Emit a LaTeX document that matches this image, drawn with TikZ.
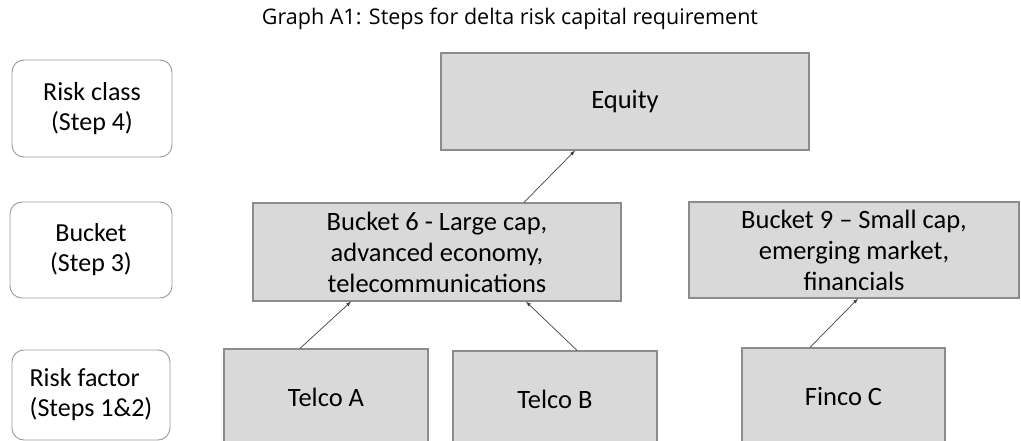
\documentclass[tikz,border=0pt]{standalone}
\usepackage{fontspec}
\setmainfont{Carlito}
\newfontfamily\titlefont{Open Sans}
\usetikzlibrary{arrows}
\definecolor{boxfill}{HTML}{D9D9D9}
\definecolor{boxline}{HTML}{8C8C8C}
\definecolor{stepline}{HTML}{9A9A9A}
\definecolor{arrowline}{HTML}{404040}

\begin{document}
\begin{tikzpicture}[x=1pt, y=-1pt,
   stepbox/.style={draw=stepline, rounded corners=12pt, line width=0.9pt, align=center,
      font=\fontsize{26}{30}\selectfont, inner sep=0pt},
   itembox/.style={draw=boxline, fill=boxfill, line width=1.2pt, align=center,
      font=\fontsize{26.5}{31}\selectfont, inner sep=0pt},
   link/.style={-latex, draw=arrowline, line width=0.7pt}]
   \clip (0, 0) rectangle (1021, 441);
   \node [font=\titlefont\fontsize{21.5}{24}\selectfont] (T) at (510, 19) {Graph A1: Steps for delta risk capital requirement};
   \node [stepbox, minimum width=160pt, minimum height=97pt] (RC) at (92, 108.5) {Risk class\\(Step 4)};
   \node [stepbox, minimum width=162pt, minimum height=96pt] (BK) at (91, 250) {Bucket\\(Step 3)};
   \node [stepbox, minimum width=158pt, minimum height=90pt, align=left] (RF) at (91, 395) {Risk factor\\(Steps 1\&2)};
   \node [itembox, minimum width=368pt, minimum height=97pt] (EQ) at (625, 101.5) {Equity};
   \node [itembox, minimum width=368pt, minimum height=98pt] (B6) at (437, 252) {Bucket 6 - Large cap,\\advanced economy,\\telecommunications};
   \node [itembox, minimum width=330pt, minimum height=96pt] (B9) at (854, 250) {Bucket 9 -- Small cap,\\emerging market,\\financials};
   \node [itembox, minimum width=204pt, minimum height=96pt] (TA) at (326, 397) {Telco A};
   \node [itembox, minimum width=204pt, minimum height=96pt] (TB) at (555, 399) {Telco B};
   \node [itembox, minimum width=203pt, minimum height=96pt] (FC) at (843.5, 396) {Finco C};
   \draw [link] ([xshift=87pt]B6.north) -- ([xshift=-50pt]EQ.south);
   \draw [link] ([xshift=-26pt]TA.north) -- ([xshift=-86pt]B6.south);
   \draw [link] ([xshift=22pt]TB.north) -- ([xshift=89pt]B6.south);
   \draw [link] ([xshift=-33.5pt]FC.north) -- ([xshift=4pt]B9.south);
\end{tikzpicture}
\end{document}
